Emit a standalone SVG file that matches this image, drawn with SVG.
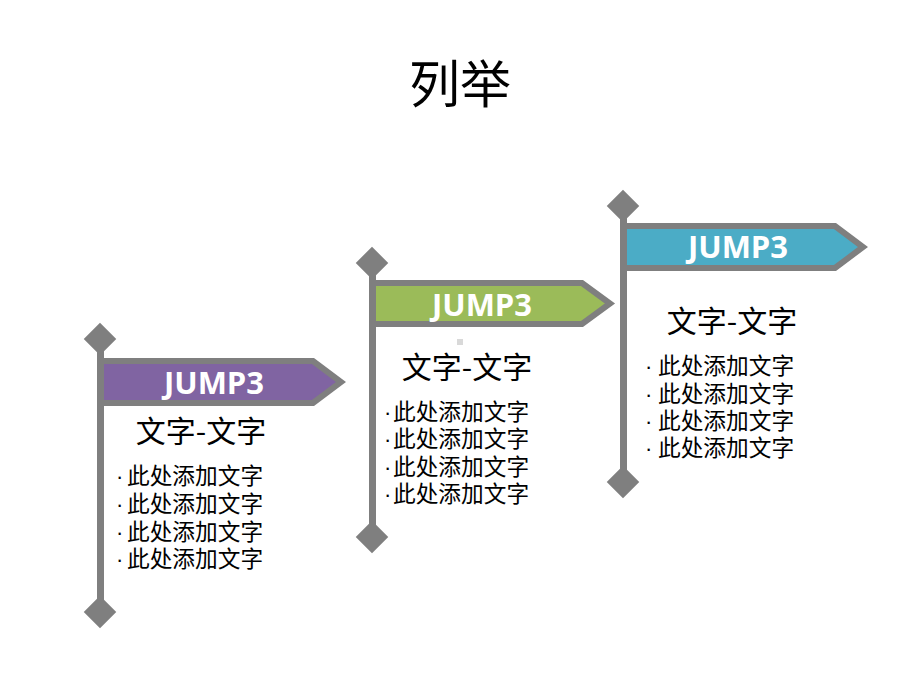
<svg xmlns="http://www.w3.org/2000/svg" width="920" height="690" viewBox="0 0 920 690">
<style>
.pole{fill:#7f7f7f}
.dia{fill:#7f7f7f}
.flag{stroke:#7f7f7f;stroke-width:6;stroke-linejoin:miter}
.jump{font-family:"Open Sans","Liberation Sans",sans-serif;font-weight:bold;font-size:31px;fill:#ffffff;text-anchor:middle}
.sub{font-family:"Noto Sans CJK SC",sans-serif;font-size:30px;fill:#000;text-anchor:middle}
.item{font-family:"Noto Sans CJK SC",sans-serif;font-size:22.7px;fill:#000}
.dot{font-family:"Liberation Sans",sans-serif;font-size:22px;fill:#000}
.title{font-family:"Noto Sans CJK SC",serif;font-size:51px;fill:#000;text-anchor:middle}
</style>
<rect width="920" height="690" fill="#fff"/>
<text class="title" x="460" y="103">列举</text>

<g id="node1">
  <path class="flag" fill="#8064a2" d="M100,361 H313 L341,382 L313,403 H100 Z"/>
  <rect class="pole" x="97" y="339" width="7" height="273"/>
  <rect class="dia" x="-11.5" y="-11.5" width="23" height="23" transform="translate(100,339) rotate(45)"/>
  <rect class="dia" x="-11.5" y="-11.5" width="23" height="23" transform="translate(100,612) rotate(45)"/>
  <text class="jump" x="214" y="394">JUMP3</text>
  <text class="sub" x="201" y="442">文字-文字</text>
  <text class="dot" x="116" y="484">·</text>
  <text class="dot" x="116" y="512">·</text>
  <text class="dot" x="116" y="540">·</text>
  <text class="dot" x="116" y="567">·</text>
  <text class="item" x="127" y="484">此处添加文字</text>
  <text class="item" x="127" y="512">此处添加文字</text>
  <text class="item" x="127" y="540">此处添加文字</text>
  <text class="item" x="127" y="567">此处添加文字</text>
</g>

<g id="node2">
  <path class="flag" fill="#9bbb59" d="M372,283 H582 L610,303.5 L582,324 H372 Z"/>
  <rect class="pole" x="369" y="263" width="7" height="274"/>
  <rect class="dia" x="-11.5" y="-11.5" width="23" height="23" transform="translate(372,263) rotate(45)"/>
  <rect class="dia" x="-11.5" y="-11.5" width="23" height="23" transform="translate(372,537) rotate(45)"/>
  <text class="jump" x="482" y="316">JUMP3</text>
  <rect x="457" y="339" width="6" height="6" fill="#d9d9d9"/>
  <text class="sub" x="467" y="378">文字-文字</text>
  <text class="dot" x="384" y="420">·</text>
  <text class="dot" x="384" y="447">·</text>
  <text class="dot" x="384" y="475">·</text>
  <text class="dot" x="384" y="502">·</text>
  <text class="item" x="393" y="420">此处添加文字</text>
  <text class="item" x="393" y="447">此处添加文字</text>
  <text class="item" x="393" y="475">此处添加文字</text>
  <text class="item" x="393" y="502">此处添加文字</text>
</g>

<g id="node3">
  <path class="flag" fill="#4bacc6" d="M623,226 H835 L863,247 L835,268 H623 Z"/>
  <rect class="pole" x="620" y="206" width="7" height="276"/>
  <rect class="dia" x="-11.5" y="-11.5" width="23" height="23" transform="translate(623,206) rotate(45)"/>
  <rect class="dia" x="-11.5" y="-11.5" width="23" height="23" transform="translate(623,482) rotate(45)"/>
  <text class="jump" x="738" y="258">JUMP3</text>
  <text class="sub" x="732" y="332">文字-文字</text>
  <text class="dot" x="645" y="374">·</text>
  <text class="dot" x="645" y="402">·</text>
  <text class="dot" x="645" y="429">·</text>
  <text class="dot" x="645" y="456">·</text>
  <text class="item" x="658" y="374">此处添加文字</text>
  <text class="item" x="658" y="402">此处添加文字</text>
  <text class="item" x="658" y="429">此处添加文字</text>
  <text class="item" x="658" y="456">此处添加文字</text>
</g>
</svg>
